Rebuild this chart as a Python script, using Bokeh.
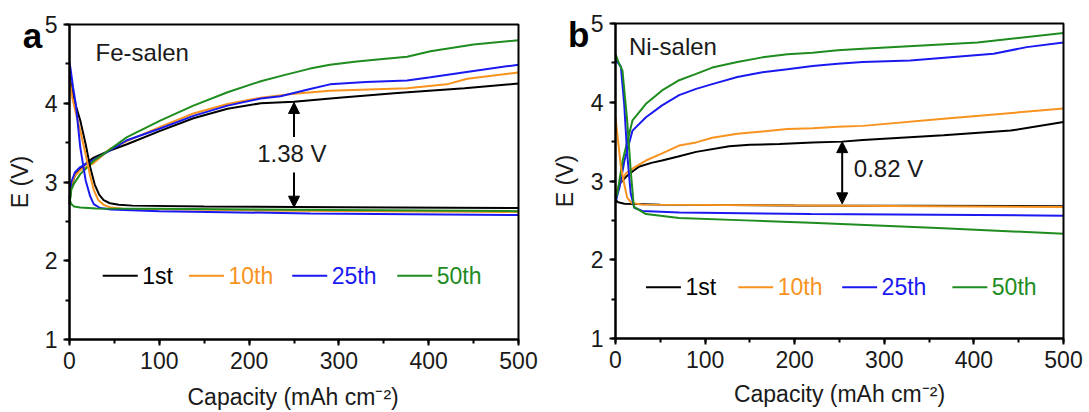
import math
from bokeh.plotting import figure
from bokeh.models import Range1d, SingleIntervalTicker, Label, Arrow, NormalHead, BoxAnnotation
from bokeh.layouts import row
from bokeh.core.properties import value
from bokeh.embed import file_html
from bokeh.resources import INLINE

# ---------------- data: panel a (Fe-salen) ----------------
cycles = ["1st", "10th", "25th", "50th"]
colors = ["#000000", "#F7931E", "#1A1AF0", "#1E8C1E"]

a_black_chg_x = [0, 2, 6, 12, 20, 27, 45, 64, 101, 138, 176, 213, 250, 300, 365, 440, 500]
a_black_chg_y = [2.72, 2.95, 3.08, 3.17, 3.25, 3.31, 3.40, 3.48, 3.65, 3.81, 3.93, 4.00, 4.02, 4.07, 4.13, 4.19, 4.25]
a_orange_chg_x = [0, 2, 6, 12, 20, 27, 45, 64, 101, 138, 176, 213, 250, 290, 376, 420, 443, 500]
a_orange_chg_y = [2.75, 2.97, 3.08, 3.15, 3.20, 3.24, 3.42, 3.52, 3.70, 3.87, 3.99, 4.07, 4.12, 4.16, 4.19, 4.24, 4.31, 4.39]
a_blue_chg_x = [0, 2, 6, 12, 20, 27, 45, 64, 101, 138, 176, 213, 235, 268, 290, 330, 376, 402, 450, 500]
a_blue_chg_y = [2.80, 3.00, 3.12, 3.19, 3.24, 3.28, 3.40, 3.53, 3.68, 3.84, 3.97, 4.06, 4.09, 4.18, 4.24, 4.27, 4.29, 4.33, 4.41, 4.49]
a_green_chg_x = [0, 2, 5, 12, 20, 27, 46, 64, 101, 138, 176, 213, 240, 268, 290, 320, 346, 376, 402, 450, 500]
a_green_chg_y = [2.72, 2.90, 2.98, 3.10, 3.19, 3.27, 3.42, 3.57, 3.78, 3.97, 4.14, 4.28, 4.36, 4.44, 4.49, 4.53, 4.56, 4.59, 4.66, 4.745, 4.80]

a_black_dis_x = [0, 3, 7, 12, 18, 23, 28, 33, 38, 45, 55, 70, 150, 300, 500]
a_black_dis_y = [4.35, 4.15, 3.97, 3.78, 3.48, 3.19, 2.97, 2.84, 2.77, 2.73, 2.71, 2.70, 2.69, 2.68, 2.67]
a_orange_dis_x = [0, 3, 7, 12, 18, 23, 27, 32, 38, 46, 60, 200, 500]
a_orange_dis_y = [4.30, 4.08, 3.88, 3.65, 3.35, 3.08, 2.90, 2.77, 2.71, 2.675, 2.66, 2.64, 2.62]
a_blue_dis_x = [0, 1, 4, 7, 12, 18, 23, 27, 34, 46, 100, 268, 500]
a_blue_dis_y = [4.52, 4.45, 4.20, 3.99, 3.44, 3.02, 2.82, 2.72, 2.67, 2.65, 2.63, 2.60, 2.58]
a_green_dis_x = [0, 2, 5, 12, 30, 100, 300, 500]
a_green_dis_y = [2.78, 2.72, 2.69, 2.675, 2.665, 2.66, 2.645, 2.63]

# ---------------- data: panel b (Ni-salen) ----------------
b_black_chg_x = [0, 2, 5, 11.5, 20, 26, 40, 52, 70, 90, 127, 150, 183, 220, 253, 276, 366, 441, 500]
b_black_chg_y = [2.80, 2.88, 2.97, 3.05, 3.13, 3.18, 3.23, 3.26, 3.31, 3.37, 3.44, 3.46, 3.47, 3.49, 3.50, 3.52, 3.58, 3.64, 3.75]
b_orange_chg_x = [0, 2, 6, 12, 22, 34, 52, 71, 90, 108, 136, 164, 192, 220, 248, 276, 366, 500]
b_orange_chg_y = [2.80, 2.90, 3.00, 3.10, 3.18, 3.26, 3.35, 3.45, 3.49, 3.55, 3.60, 3.63, 3.66, 3.67, 3.69, 3.70, 3.79, 3.92]
b_blue_chg_x = [0, 2, 4.5, 10, 19, 34, 52, 71, 90, 108, 136, 164, 192, 220, 248, 276, 329, 422, 459, 500]
b_blue_chg_y = [2.72, 2.82, 2.92, 3.26, 3.64, 3.81, 3.96, 4.09, 4.17, 4.23, 4.32, 4.38, 4.42, 4.46, 4.49, 4.51, 4.53, 4.615, 4.70, 4.76]
b_green_chg_x = [0, 2, 8, 13.4, 19, 34, 52, 71, 90, 108, 136, 164, 192, 220, 248, 276, 404, 500]
b_green_chg_y = [2.78, 2.84, 3.26, 3.51, 3.77, 3.98, 4.15, 4.28, 4.36, 4.44, 4.51, 4.57, 4.61, 4.63, 4.66, 4.68, 4.76, 4.88]

b_black_dis_x = [0, 3, 10, 50, 200, 500]
b_black_dis_y = [2.76, 2.73, 2.71, 2.70, 2.69, 2.68]
b_orange_dis_x = [0, 2, 6, 10, 13, 18, 30, 500]
b_orange_dis_y = [3.81, 3.60, 3.18, 2.95, 2.79, 2.72, 2.70, 2.67]
b_blue_dis_x = [0, 3, 6, 9.7, 13, 17, 21, 30, 71, 218, 500]
b_blue_dis_y = [4.53, 4.50, 4.45, 3.98, 3.35, 2.84, 2.66, 2.62, 2.60, 2.58, 2.56]
b_green_dis_x = [0, 3, 7.8, 13, 17, 20.5, 34, 71, 145, 218, 366, 500]
b_green_dis_y = [4.61, 4.52, 4.40, 3.77, 3.13, 2.67, 2.58, 2.53, 2.50, 2.47, 2.40, 2.33]

X_MIN, X_MAX = 0, 500
Y_MIN, Y_MAX = 1, 5
x_ticks_interval = 100
y_ticks_interval = 1
x_title = "Capacity (mAh cm\u207b\u00b2)"
y_title = "E (V)"

FONT = "Liberation Sans"
HEIGHT = 412


def make_panel(width, box_px, charge, discharge, letter, name, name_pos,
               gap_label, gap_label_pos, arrows, legend_y, legend_x, xtitle_pos, ytitle_pos):
    # box_px = (left, right, top, bottom) pixel position of the axes box inside this figure.
    # The frame covers the whole figure so that the panel letter (outside the box) is drawn;
    # axes are fixed at the box edges.
    L, R, T, B = box_px
    sx = (R - L) / (X_MAX - X_MIN)
    sy = (B - T) / (Y_MAX - Y_MIN)
    xr = Range1d(X_MIN - L / sx, X_MAX + (width - R) / sx)
    yr = Range1d(Y_MIN - (HEIGHT - B) / sy, Y_MAX + T / sy)
    p = figure(width=width, height=HEIGHT, output_backend="svg", toolbar_location=None,
               x_range=xr, y_range=yr,
               min_border_left=0, min_border_right=0, min_border_top=0, min_border_bottom=0)
    p.background_fill_color = "white"
    p.border_fill_color = "white"
    p.grid.visible = False
    p.outline_line_color = None
    p.add_layout(BoxAnnotation(left=X_MIN, right=X_MAX, bottom=Y_MIN, top=Y_MAX,
                               fill_color=None, fill_alpha=0, line_color="black",
                               line_alpha=1.0, line_width=2))

    p.xaxis.ticker = SingleIntervalTicker(interval=x_ticks_interval, num_minor_ticks=2)
    p.yaxis.ticker = SingleIntervalTicker(interval=y_ticks_interval, num_minor_ticks=2)
    p.xaxis.bounds = (X_MIN, X_MAX)
    p.yaxis.bounds = (Y_MIN, Y_MAX)
    p.xaxis.fixed_location = Y_MIN
    p.yaxis.fixed_location = X_MIN
    for ax in (p.xaxis, p.yaxis):
        ax.axis_line_width = 2
        ax.major_tick_line_width = 2
        ax.minor_tick_line_width = 2
        ax.major_tick_out = 6
        ax.major_tick_in = 0
        ax.minor_tick_out = 4
        ax.minor_tick_in = 0
        ax.major_label_text_font = FONT
        ax.major_label_text_font_size = "23px"
        ax.major_label_text_color = "#1a1a1a"
        ax.major_label_standoff = 6

    # axis titles
    p.add_layout(Label(x=xtitle_pos[0], y=xtitle_pos[1], text=x_title, text_font=FONT,
                       text_font_size="23px", text_color="#1a1a1a",
                       text_align="center", text_baseline="middle"))
    p.add_layout(Label(x=ytitle_pos[0], y=ytitle_pos[1], text=y_title, text_font=FONT,
                       text_font_size="23px", text_color="#1a1a1a", angle=math.pi / 2,
                       text_align="center", text_baseline="middle"))

    for (xs, ys), c in zip(charge, colors):
        p.line(xs, ys, line_color=c, line_width=2)
    for (xs, ys), c in zip(discharge, colors):
        p.line(xs, ys, line_color=c, line_width=2)

    p.add_layout(Label(x=letter[1], y=letter[2], text=letter[0], text_font=FONT,
                       text_font_size="35px", text_font_style="bold", text_color="black",
                       text_baseline="alphabetic"))
    p.add_layout(Label(x=name_pos[0], y=name_pos[1], text=name, text_font=FONT,
                       text_font_size="24px", text_color="#1a1a1a", text_baseline="alphabetic"))
    p.add_layout(Label(x=gap_label_pos[0], y=gap_label_pos[1], text=gap_label, text_font=FONT,
                       text_font_size="24px", text_color="#1a1a1a", text_baseline="alphabetic"))
    for (xa, y0, y1, both) in arrows:
        p.add_layout(Arrow(x_start=xa, y_start=y0, x_end=xa, y_end=y1, line_width=2,
                           line_color="black",
                           end=NormalHead(size=11, fill_color="black", line_color="black"),
                           start=(NormalHead(size=11, fill_color="black", line_color="black") if both else None)))

    # legend
    for lbl, c, lx in zip(cycles, colors, legend_x):
        p.segment(x0=[lx], y0=[legend_y], x1=[lx + 39], y1=[legend_y], line_color=c, line_width=2)
        p.text(x=[lx + 44], y=[legend_y], text=[lbl], text_color=c, text_font=value(FONT),
               text_font_size="23px", text_baseline="middle", text_align="left")
    return p


pa = make_panel(545, (69, 518, 24, 339),
                [(a_black_chg_x, a_black_chg_y), (a_orange_chg_x, a_orange_chg_y),
                 (a_blue_chg_x, a_blue_chg_y), (a_green_chg_x, a_green_chg_y)],
                [(a_black_dis_x, a_black_dis_y), (a_orange_dis_x, a_orange_dis_y),
                 (a_blue_dis_x, a_blue_dis_y), (a_green_dis_x, a_green_dis_y)],
                ("a", -52, 4.86), "Fe-salen", (29, 4.645),
                "1.38 V", (209, 3.36),
                [(250, 3.57, 4.01, False), (250, 3.12, 2.68, False)],
                1.81, [37, 133, 248, 365],
                (249, 0.27), (-55.5, 3.0))

pb = make_panel(544, (70, 518, 23, 338),
                [(b_black_chg_x, b_black_chg_y), (b_orange_chg_x, b_orange_chg_y),
                 (b_blue_chg_x, b_blue_chg_y), (b_green_chg_x, b_green_chg_y)],
                [(b_black_dis_x, b_black_dis_y), (b_orange_dis_x, b_orange_dis_y),
                 (b_blue_dis_x, b_blue_dis_y), (b_green_dis_x, b_green_dis_y)],
                ("b", -53, 4.86), "Ni-salen", (15, 4.71),
                "0.82 V", (266, 3.16),
                [(253, 2.71, 3.50, True)],
                1.65, [34, 137, 253, 376],
                (250, 0.29), (-56, 3.0))

layout = row(pa, pb)
open("out.html", "w").write(file_html(layout, INLINE))
